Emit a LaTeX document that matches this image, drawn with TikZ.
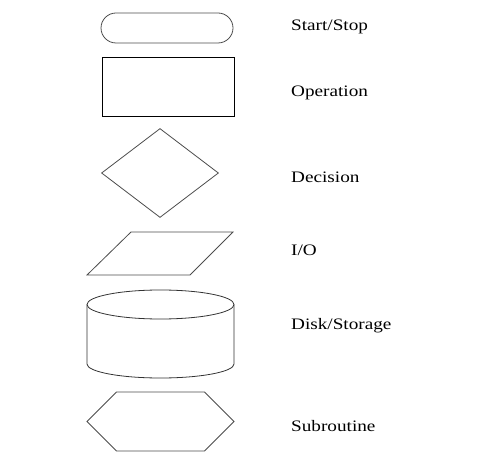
\documentclass[tikz,border=0pt]{standalone}
\usepackage{fontspec}
\setmainfont[FakeStretch=1.2]{Liberation Serif}
\usetikzlibrary{shapes.geometric,shapes.misc,shapes.symbols}

\begin{document}
\begin{tikzpicture}[x=1pt,y=-1pt]
\useasboundingbox (0,0) rectangle (495,462);
\node[rounded rectangle,draw=black!70,minimum width=132pt,minimum height=30pt,inner sep=0pt,line width=0.8pt] (0) at (167,28) {};
\node[shape=rectangle,draw=black,minimum width=132pt,minimum height=59pt,inner sep=0pt,line width=0.8pt] (1) at (168,86.5) {};
\node[diamond,draw=black!70,minimum width=117pt,minimum height=89pt,inner sep=0pt,line width=0.8pt] (2) at (160,173) {};
% I/O
\draw[draw=black!70,line width=0.8pt] (87,275) -- (131,232) -- (233,232) -- (190,275) -- cycle;
% disk
\draw[draw=black!80,line width=0.8pt] (160.5,304.5) ellipse [x radius=73.5,y radius=14.5];
\draw[draw=black!80,line width=0.8pt] (87,304.5) -- (87,364) arc[start angle=180,end angle=0,x radius=73.5,y radius=14] -- (234,304.5);
\node[signal,signal to=west and east,signal pointer angle=90,draw=black!70,minimum width=147pt,minimum height=59pt,inner sep=0pt,line width=0.8pt] (5) at (160.5,421.5) {};

\node[anchor=base west,inner sep=0pt,font=\fontsize{16}{19}\selectfont] (6) at (291,30.7) {Start/Stop};
\node[anchor=base west,inner sep=0pt,font=\fontsize{16}{19}\selectfont] (7) at (291,96.7) {Operation};
\node[anchor=base west,inner sep=0pt,font=\fontsize{16}{19}\selectfont] (8) at (291,183) {Decision};
\node[anchor=base west,inner sep=0pt,font=\fontsize{16}{19}\selectfont] (9) at (291,255) {I/O};
\node[anchor=base west,inner sep=0pt,font=\fontsize{16}{19}\selectfont] (10) at (291,329.5) {Disk/Storage};
\node[anchor=base west,inner sep=0pt,font=\fontsize{16}{19}\selectfont] (11) at (291,431.5) {Subroutine};
\end{tikzpicture}
\end{document}
